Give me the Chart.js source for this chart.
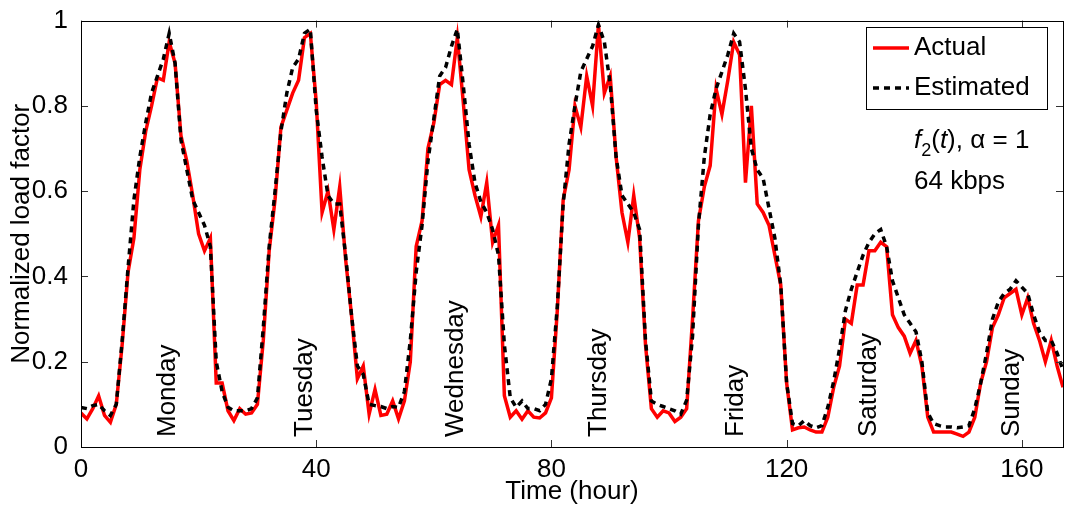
<!DOCTYPE html>
<html lang="en">
<head>
  <meta charset="UTF-8">
  <title>Normalized load factor</title>
  <script src="https://cdn.jsdelivr.net/npm/chart.js@4"></script>
  <style>
    html, body { margin: 0; padding: 0; background: #fff; }
    #wrap { width: 1065px; height: 510px; }
  </style>
</head>
<body>
  <div id="wrap"><canvas id="loadChart" width="1065" height="510"></canvas></div>

  <script>
    // hour index for every sample (one week, hourly)
    const hours = Array.from({ length: 168 }, (_, i) => i);

    // measured load (red solid)
    const actual = [
      0.08, 0.066, 0.09, 0.12, 0.074, 0.058, 0.10, 0.24, 0.41, 0.49, 0.65, 0.74,
      0.80, 0.866, 0.86, 0.95, 0.90, 0.73, 0.67, 0.59, 0.50, 0.46, 0.49, 0.15,
      0.15, 0.085, 0.062, 0.09, 0.077, 0.08, 0.10, 0.25, 0.46, 0.58, 0.75, 0.79,
      0.83, 0.86, 0.96, 0.97, 0.81, 0.55, 0.60, 0.51, 0.61, 0.44, 0.31, 0.16,
      0.19, 0.077, 0.135, 0.074, 0.077, 0.108, 0.066, 0.108, 0.20, 0.47, 0.53, 0.70,
      0.76, 0.85, 0.86, 0.85, 0.96, 0.81, 0.65, 0.59, 0.54, 0.62, 0.48, 0.52,
      0.12, 0.07, 0.085, 0.065, 0.085, 0.07, 0.068, 0.08, 0.115, 0.32, 0.58, 0.65,
      0.80, 0.75, 0.87, 0.80, 0.99, 0.83, 0.87, 0.68, 0.55, 0.48, 0.59, 0.49,
      0.24, 0.09, 0.07, 0.085, 0.08, 0.06, 0.07, 0.09, 0.30, 0.53, 0.61, 0.66,
      0.84, 0.78, 0.86, 0.95, 0.92, 0.62, 0.80, 0.57, 0.55, 0.52, 0.45, 0.38,
      0.15, 0.04, 0.045, 0.047, 0.04, 0.035, 0.035, 0.07, 0.14, 0.19, 0.30, 0.29,
      0.38, 0.38, 0.46, 0.46, 0.48, 0.47, 0.31, 0.28, 0.26, 0.22, 0.25, 0.19,
      0.07, 0.035, 0.035, 0.035, 0.035, 0.03, 0.025, 0.035, 0.07, 0.15, 0.20, 0.28,
      0.31, 0.35, 0.36, 0.37, 0.31, 0.35, 0.29, 0.25, 0.20, 0.25, 0.19, 0.14
    ];

    // model estimate (black dashed)
    const estimated = [
      0.093, 0.09, 0.097, 0.10, 0.085, 0.074, 0.10, 0.25, 0.42, 0.58, 0.68, 0.76,
      0.83, 0.87, 0.91, 0.97, 0.90, 0.72, 0.65, 0.58, 0.55, 0.52, 0.47, 0.20,
      0.13, 0.093, 0.085, 0.085, 0.085, 0.09, 0.115, 0.28, 0.47, 0.60, 0.74, 0.83,
      0.89, 0.91, 0.97, 0.98, 0.79, 0.68, 0.59, 0.57, 0.57, 0.45, 0.31, 0.19,
      0.17, 0.10, 0.097, 0.095, 0.09, 0.095, 0.093, 0.13, 0.25, 0.41, 0.52, 0.67,
      0.77, 0.87, 0.89, 0.94, 0.98, 0.85, 0.71, 0.62, 0.575, 0.55, 0.51, 0.45,
      0.24, 0.116, 0.093, 0.108, 0.09, 0.09, 0.085, 0.10, 0.16, 0.33, 0.57, 0.71,
      0.80, 0.88, 0.91, 0.94, 0.99, 0.95, 0.85, 0.68, 0.59, 0.57, 0.55, 0.51,
      0.25, 0.108, 0.10, 0.095, 0.09, 0.085, 0.077, 0.11, 0.26, 0.52, 0.68, 0.78,
      0.84, 0.88, 0.92, 0.97, 0.95, 0.84, 0.70, 0.65, 0.63, 0.56, 0.49, 0.38,
      0.15, 0.055, 0.05, 0.062, 0.05, 0.045, 0.05, 0.093, 0.154, 0.23, 0.32, 0.37,
      0.41, 0.45, 0.48, 0.50, 0.51, 0.47, 0.39, 0.35, 0.31, 0.29, 0.27, 0.20,
      0.08, 0.055, 0.05, 0.047, 0.047, 0.045, 0.047, 0.05, 0.09, 0.15, 0.22, 0.30,
      0.34, 0.36, 0.37, 0.39, 0.375, 0.36, 0.31, 0.27, 0.25, 0.25, 0.22, 0.18
    ];

    // vertical day names and the hour they sit on
    const dayNames = ['Monday', 'Tuesday', 'Wednesday', 'Thursday', 'Friday', 'Saturday', 'Sunday'];
    const dayHours = [14.8, 38.1, 63.7, 88, 111.3, 134, 158.3];

    const xTicks = [0, 40, 80, 120, 160];
    const yTicks = [0, 0.2, 0.4, 0.6, 0.8, 1];

    const FONT = '"Liberation Sans", Arial, Helvetica, sans-serif';
    const fontPx = 26;

    // box, inward ticks, x tick labels, day names, legend and the note text
    const decorations = {
      id: 'decorations',
      afterDatasetsDraw(chart) {
        const { ctx, chartArea: a, scales: { x, y } } = chart;
        ctx.save();

        // inward ticks on all four sides
        ctx.strokeStyle = '#333';
        ctx.lineWidth = 1;
        ctx.beginPath();
        xTicks.forEach(v => {
          const px = Math.round(x.getPixelForValue(v)) + 0.5;
          ctx.moveTo(px, a.bottom); ctx.lineTo(px, a.bottom - 7);
          ctx.moveTo(px, a.top); ctx.lineTo(px, a.top + 7);
        });
        yTicks.forEach(v => {
          const py = Math.round(y.getPixelForValue(v)) + 0.5;
          ctx.moveTo(a.left, py); ctx.lineTo(a.left + 7, py);
          ctx.moveTo(a.right, py); ctx.lineTo(a.right - 7, py);
        });
        ctx.stroke();

        // frame
        ctx.strokeStyle = '#000';
        ctx.strokeRect(Math.round(a.left) + 0.5, Math.round(a.top) + 0.5,
          Math.round(a.right - a.left), Math.round(a.bottom - a.top));

        // x tick labels
        ctx.fillStyle = '#000';
        ctx.font = fontPx + 'px ' + FONT;
        ctx.textAlign = 'center';
        ctx.textBaseline = 'alphabetic';
        xTicks.forEach(v => ctx.fillText(String(v), x.getPixelForValue(v), a.bottom + 30));

        // day names
        ctx.textAlign = 'left';
        ctx.textBaseline = 'middle';
        dayNames.forEach((name, i) => {
          ctx.save();
          ctx.translate(x.getPixelForValue(dayHours[i]), a.bottom - 10);
          ctx.rotate(-Math.PI / 2);
          ctx.fillText(name, 0, 0);
          ctx.restore();
        });

        // legend box
        const lx = 866, ly = 27, lw = 181, lh = 82;
        ctx.fillStyle = '#fff';
        ctx.fillRect(lx, ly, lw, lh);
        ctx.strokeStyle = '#000';
        ctx.strokeRect(lx + 0.5, ly + 0.5, lw, lh);

        ctx.lineWidth = 3.5;
        ctx.strokeStyle = '#ff0000';
        ctx.beginPath(); ctx.moveTo(873, 48); ctx.lineTo(909, 48); ctx.stroke();
        ctx.strokeStyle = '#000';
        ctx.setLineDash([6, 5]);
        ctx.beginPath(); ctx.moveTo(873, 88); ctx.lineTo(909, 88); ctx.stroke();
        ctx.setLineDash([]);

        ctx.fillStyle = '#000';
        ctx.fillText('Actual', 914, 48);
        ctx.fillText('Estimated', 914, 88);

        // note: f2(t), α = 1 / 64 kbps
        ctx.textBaseline = 'alphabetic';
        let cx = 914;
        const base = 148;
        const part = (txt, style, size, dy) => {
          ctx.font = style + size + 'px ' + FONT;
          ctx.fillText(txt, cx, base + dy);
          cx += ctx.measureText(txt).width;
        };
        part('f', 'italic ', fontPx, 0);
        part('2', '', 18, 8);
        part('(', '', fontPx, 0);
        part('t', 'italic ', fontPx, 0);
        part('), \u03b1 = 1', '', fontPx, 0);
        ctx.font = fontPx + 'px ' + FONT;
        ctx.fillText('64 kbps', 914, 189);

        ctx.restore();
      }
    };

    const canvas = document.getElementById('loadChart');
    new Chart(canvas.getContext('2d'), {
      type: 'line',
      data: {
        datasets: [
          {
            label: 'Estimated',
            data: hours.map((h, i) => ({ x: h, y: estimated[i] })),
            borderColor: '#000',
            borderWidth: 3.5,
            borderDash: [6, 5],
            pointRadius: 0,
            tension: 0,
            fill: false,
            order: 0
          },
          {
            label: 'Actual',
            data: hours.map((h, i) => ({ x: h, y: actual[i] })),
            borderColor: '#ff0000',
            borderWidth: 3.5,
            pointRadius: 0,
            tension: 0,
            fill: false,
            order: 1
          }
        ]
      },
      options: {
        responsive: false,
        animation: false,
        layout: { padding: { top: 12, right: 2, left: 0, bottom: 0 } },
        plugins: {
          legend: { display: false },
          tooltip: { enabled: false }
        },
        scales: {
          x: {
            type: 'linear',
            min: 0,
            max: 167,
            grid: { display: false },
            border: { display: false },
            ticks: { display: false, stepSize: 40 },
            title: {
              display: true,
              text: 'Time (hour)',
              color: '#000',
              font: { size: fontPx, family: FONT },
              padding: { top: 0, bottom: 3 }
            },
            afterFit(scale) { scale.height = 63; }
          },
          y: {
            min: 0,
            max: 1,
            grid: { display: false },
            border: { display: false },
            ticks: {
              stepSize: 0.2,
              padding: 5,
              color: '#000',
              font: { size: fontPx, family: FONT },
              callback: v => String(+v.toFixed(1))
            },
            title: {
              display: true,
              text: 'Normalized load factor',
              color: '#000',
              font: { size: fontPx, family: FONT },
              padding: { top: 6, bottom: 0 }
            },
            afterFit(scale) { scale.width = 81; }
          }
        }
      },
      plugins: [decorations]
    });
  </script>
</body>
</html>
